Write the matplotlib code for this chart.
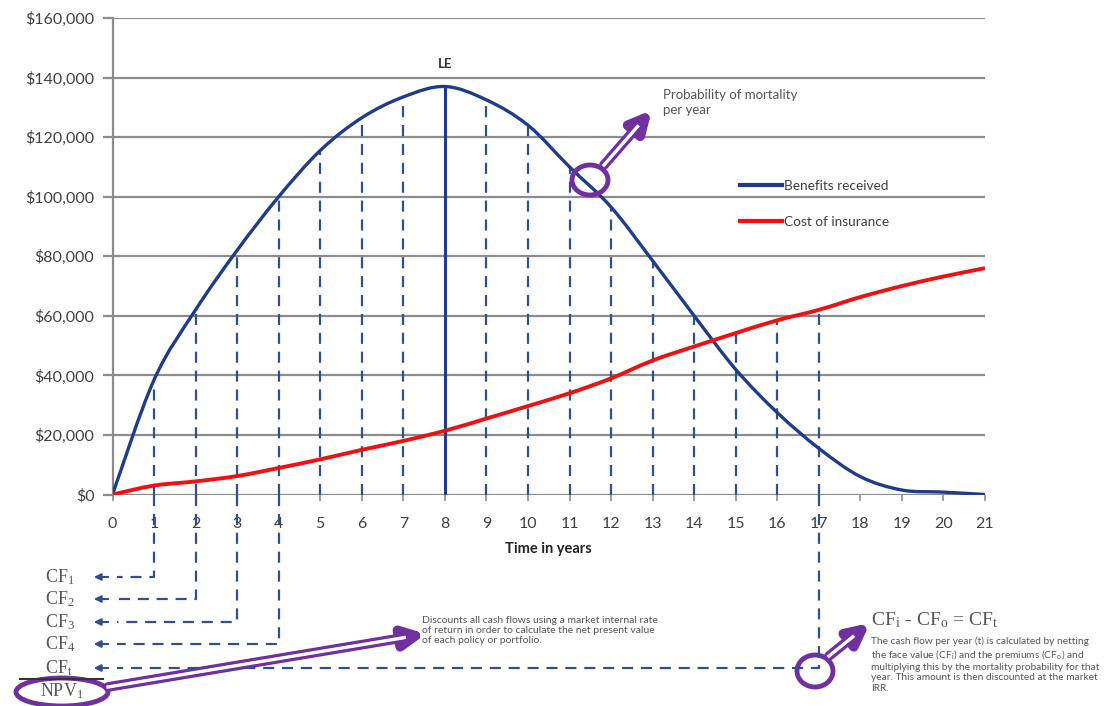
import numpy as np
import matplotlib.pyplot as plt
import matplotlib.transforms as mtransforms
from matplotlib.path import Path
from matplotlib.patches import PathPatch, Ellipse, FancyArrowPatch
from matplotlib.lines import Line2D

plt.rcParams['font.family'] = ['Lato', 'DejaVu Sans']
plt.rcParams['mathtext.fontset'] = 'stix'

# Data
years = np.arange(0, 22)
benefits = [0, 38500, 62000, 82000, 100000, 115500, 126500, 133500, 137000, 132500,
            124000, 110000, 96500, 78500, 60000, 42000, 27500, 15500, 6000, 1500, 800, 0]
cost = [0, 3000, 4400, 6200, 8900, 11800, 15000, 18000, 21400, 25500,
        29700, 34000, 39000, 45000, 49700, 54200, 58500, 62000, 66300, 70000, 73200, 76000]
y_ticks = np.arange(0, 160001, 20000)
le_year = 8
cf_years = [1, 2, 3, 4]
last_year = 17
cf_labels = [r'CF$_{\mathregular{1}}$', r'CF$_{\mathregular{2}}$', r'CF$_{\mathregular{3}}$',
             r'CF$_{\mathregular{4}}$', r'CF$_{\mathregular{t}}$']

W, H = 1120, 706
BLUE = '#1f3c88'
DASH = '#2f4f8f'
RED = '#ee1111'
PURPLE = '#7030a0'
GRID = '#8c8c8c'
TXT = '#404040'
SERIF = ['Liberation Serif', 'DejaVu Serif']

fig = plt.figure(figsize=(W / 100, H / 100), dpi=100)
# axes in pixel terms: left 112.5, right 985, top 18, bottom 494.5
L, R, T, B = 112.5, 985, 18, 494.5
ax = fig.add_axes([L / W, 1 - B / H, (R - L) / W, (B - T) / H])
pix = mtransforms.Affine2D().scale(1 / W, -1 / H).translate(0, 1) + fig.transFigure


def xp(yr):
    return L + yr / 21 * (R - L)


def smooth(xs, ys):
    P = np.column_stack([xs, ys]).astype(float)
    verts = [P[0]]
    codes = [Path.MOVETO]
    n = len(P)
    for i in range(n - 1):
        p0 = P[max(i - 1, 0)]
        p1 = P[i]
        p2 = P[i + 1]
        p3 = P[min(i + 2, n - 1)]
        verts += [p1 + (p2 - p0) / 6, p2 - (p3 - p1) / 6, p2]
        codes += [Path.CURVE4] * 3
    return Path(verts, codes)


ax.set_xlim(0, 21)
ax.set_ylim(0, 160000)
ax.set_yticks(y_ticks)
ax.set_yticklabels(['${:,.0f}'.format(v) for v in y_ticks])
ax.set_xticks(years)
ax.grid(axis='y', color=GRID, lw=1.6)
ax.set_axisbelow(True)
for s in ['top', 'right', 'bottom']:
    ax.spines[s].set_visible(False)
ax.spines['left'].set_color(GRID)
ax.spines['left'].set_linewidth(1.6)
ax.tick_params(axis='y', length=7, width=1.6, color=GRID, pad=6, labelsize=11.5, labelcolor=TXT)
ax.tick_params(axis='x', length=4, width=1.2, color=GRID, pad=12, labelsize=11.5, labelcolor=TXT)
ax.set_xlabel('Time in years', fontsize=10.5, fontweight='bold', color='#222222', labelpad=8)

# drop lines under the curves
tops = np.maximum(benefits, cost)
drop = [y for y in years[1:18] if y != le_year]
ax.vlines(drop, 0, tops[drop], colors=DASH, lw=1.6, linestyles=(0, (5, 3.5)))
ax.vlines(le_year, 0, benefits[le_year], colors=BLUE, lw=2.2)

ax.add_patch(PathPatch(smooth(years, benefits), fill=False, ec=BLUE, lw=2.4, zorder=4))
ax.add_patch(PathPatch(smooth(years, cost), fill=False, ec=RED, lw=2.8, zorder=4))

ax.text(le_year, 142500, 'LE', ha='center', va='bottom', fontsize=9.5, fontweight='bold', color='#333333')

handles = [Line2D([], [], color=BLUE, lw=3), Line2D([], [], color=RED, lw=3)]
leg = ax.legend(handles, ['Benefits received', 'Cost of insurance'], loc='upper left',
                bbox_to_anchor=((740 - L) / (R - L), (B - 180) / (B - T)), frameon=False,
                handlelength=3.1, handletextpad=0.15, labelspacing=1.75, fontsize=9.8,
                borderpad=0, borderaxespad=0, labelcolor=TXT)

# cash-flow rows below the axis
rows = [577, 599, 622, 644, 668]
dstyle = dict(color=DASH, lw=1.6, linestyle=(0, (5, 3.5)), transform=pix, clip_on=False)
for yr, ry in zip(cf_years, rows[:4]):
    fig.add_artist(Line2D([xp(yr), xp(yr), 117], [B, ry, ry], **dstyle))
fig.add_artist(Line2D([xp(last_year), xp(last_year), 117], [B, rows[4], rows[4]], **dstyle))
for ry, lab in zip(rows, cf_labels):
    fig.text(45 / W, 1 - ry / H, lab, fontsize=13, color='#555555', ha='left', va='center', family=SERIF)
    fig.add_artist(FancyArrowPatch((111, ry), (91, ry), transform=pix, arrowstyle='-|>',
                                   mutation_scale=10, color=DASH, lw=1.5))
fig.add_artist(Line2D([20, 103], [679, 679], color='#333333', lw=1.5, transform=pix))
fig.text(62 / W, 1 - 691 / H, r'NPV$_{\mathregular{1}}$', fontsize=13, color='#555555',
         ha='center', va='center', family=SERIF)


def double_arrow(p0, p1):
    fig.add_artist(FancyArrowPatch(p0, p1, transform=pix, arrowstyle='-|>', mutation_scale=30,
                                   color=PURPLE, lw=7, shrinkA=0, shrinkB=0))
    d = np.subtract(p1, p0)
    q = np.asarray(p0) + d * (1 - 22 / np.hypot(*d))
    fig.add_artist(Line2D([p0[0], q[0]], [p0[1], q[1]], color='white', lw=2.4, transform=pix))


for c, w, h in [((590, 180), 36, 30), ((62, 692), 92, 28), ((815, 671), 36, 32)]:
    fig.add_artist(Ellipse(c, w, h, transform=pix, fill=False, ec=PURPLE, lw=3.5))
double_arrow((604, 165), (652, 110))
double_arrow((108, 687), (426, 634))
double_arrow((829, 656), (870, 623))

fig.text(663 / W, 1 - 89 / H, 'Probability of mortality\nper year', fontsize=9.5, color='#555555',
         ha='left', va='top', linespacing=1.25)
fig.text(422 / W, 1 - 616 / H, 'Discounts all cash flows using a market internal rate\n'
         'of return in order to calculate the net present value\nof each policy or portfolio.',
         fontsize=7.5, color='#555555', ha='left', va='top', linespacing=1.15)
fig.text(871 / W, 1 - 620 / H, r'CF$_{\mathregular{i}}$ - CF$_{\mathregular{o}}$ = CF$_{\mathregular{t}}$',
         fontsize=14, color='#555555', ha='left', va='center', family=SERIF)
fig.text(871 / W, 1 - 636 / H, 'The cash flow per year (t) is calculated by netting\n'
         r'the face value (CF$_{\mathregular{i}}$) and the premiums (CF$_{\mathregular{o}}$) and' '\n'
         'multiplying this by the mortality probability for that\n'
         'year. This amount is then discounted at the market\nIRR.',
         fontsize=7.3, color='#555555', ha='left', va='top', linespacing=1.2)

fig.savefig('out.png', dpi=100)
